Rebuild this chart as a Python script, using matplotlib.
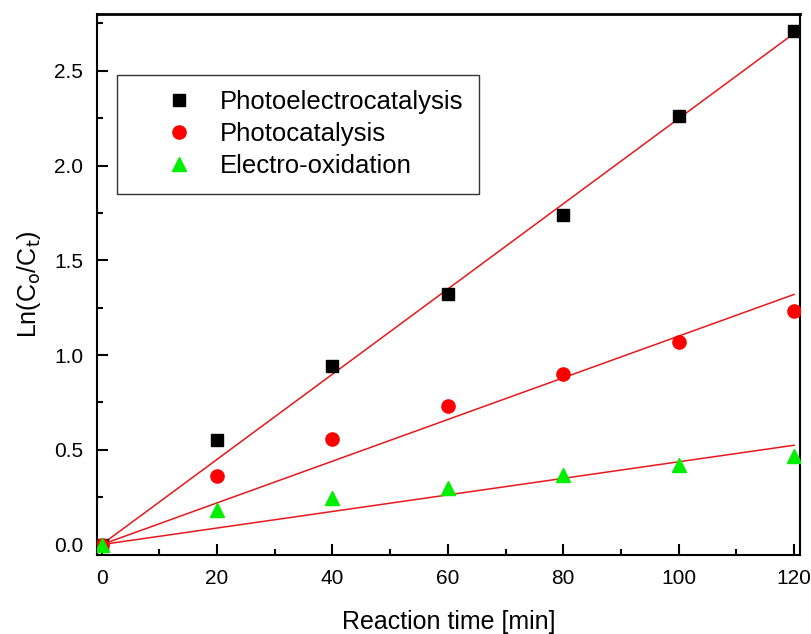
import numpy as np
import matplotlib.pyplot as plt

plt.rcParams['font.family'] = ['Liberation Sans', 'DejaVu Sans']

# Data
time = np.array([0, 20, 40, 60, 80, 100, 120])
pec = np.array([0.0, 0.55, 0.94, 1.32, 1.74, 2.26, 2.71])   # Photoelectrocatalysis
pc = np.array([0.0, 0.36, 0.555, 0.73, 0.90, 1.07, 1.235])  # Photocatalysis
eo = np.array([0.0, 0.18, 0.245, 0.30, 0.365, 0.42, 0.47])  # Electro-oxidation

labels = ['Photoelectrocatalysis', 'Photocatalysis', 'Electro-oxidation']

fig = plt.figure(figsize=(8.12, 6.34), dpi=100)
ax = fig.add_axes([0.1195, 0.1246, 0.8655, 0.8534])

# Linear fits through origin
xfit = np.array([0, 120])
for y in (pec, pc, eo):
    k = np.sum(time * y) / np.sum(time ** 2)
    ax.plot(xfit, k * xfit, color='#e8171c', lw=1.1, zorder=2)

ax.plot(time, pec, 's', color='black', ms=9, label=labels[0], zorder=3)
ax.plot(time, pc, 'o', color='#ff0000', ms=9.5, label=labels[1], zorder=3)
ax.plot(time, eo, '^', color='#00ee00', ms=10, label=labels[2], zorder=3)

ax.set_xlim(-0.8, 121)
ax.set_ylim(-0.055, 2.8)
ax.set_xticks(np.arange(0, 121, 20))
ax.set_xticks(np.arange(10, 121, 20), minor=True)
ax.set_yticks(np.arange(0, 2.51, 0.5))
ax.set_yticks(np.arange(0.25, 2.8, 0.5), minor=True)
ax.yaxis.set_major_formatter(plt.FormatStrFormatter('%.1f'))

ax.tick_params(which='both', direction='in', top=False, right=False,
               labelsize=15, width=1.5)
ax.tick_params(which='major', length=8, pad=10)
ax.tick_params(which='minor', length=4)
for s in ax.spines.values():
    s.set_linewidth(1.5)
ax.spines['top'].set_linewidth(2)

ax.set_xlabel('Reaction time [min]', fontsize=18, labelpad=16)
ax.set_ylabel(r'Ln(C$_\mathrm{o}$/C$_\mathrm{t}$)', fontsize=18, labelpad=8)

leg = ax.legend(loc='upper left', bbox_to_anchor=(0.029, 0.888), fontsize=18.5,
                frameon=True, fancybox=False, edgecolor='black',
                handletextpad=-0.2, labelspacing=0.32, borderpad=0.6,
                handlelength=3.6, borderaxespad=0)
leg.get_frame().set_linewidth(1.0)

fig.savefig('out.png', dpi=100)
